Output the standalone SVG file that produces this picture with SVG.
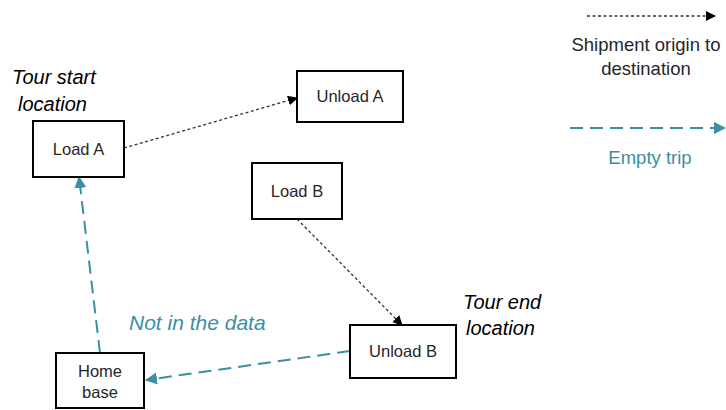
<svg xmlns="http://www.w3.org/2000/svg" width="726" height="410" viewBox="0 0 726 410">
  <defs>
    <style>
      .box { fill: #ffffff; stroke: #000000; stroke-width: 2; }
      .lbl { font-family: "Liberation Sans", Arial, sans-serif; font-size: 16.5px; fill: #262626; text-anchor: middle; }
      .note { font-family: "Liberation Sans", Arial, sans-serif; font-size: 20px; font-style: italic; fill: #000000; }
      .leg { font-family: "Liberation Sans", Arial, sans-serif; font-size: 18.5px; fill: #262626; text-anchor: middle; }
      .ship { fill: none; stroke: #333333; stroke-width: 1.3; stroke-dasharray: 3 2.5; marker-end: url(#headBlack); }
      .empty { fill: none; stroke: #3A8FA3; stroke-width: 2; stroke-dasharray: 13 7; marker-end: url(#headTeal); }
    </style>
    <marker id="headBlack" markerWidth="10" markerHeight="10" refX="9" refY="5" orient="auto" markerUnits="userSpaceOnUse">
      <path d="M0,0 L10,5 L0,10 Z" fill="#000000"/>
    </marker>
    <marker id="headTeal" markerWidth="12" markerHeight="12" refX="11" refY="6" orient="auto" markerUnits="userSpaceOnUse">
      <path d="M0,0 L12,6 L0,12 Z" fill="#3A8FA3"/>
    </marker>
  </defs>

  <!-- connectors -->
  <g id="connectors">
    <path class="ship" d="M124,148 L297,98"/>
    <path class="ship" d="M297,219 L402,325"/>
    <path class="empty" d="M100,353 L79,177"/>
    <path class="empty" d="M350,351 L146,380"/>
  </g>

  <!-- nodes -->
  <g id="load-a">
    <rect class="box" x="33" y="121" width="91" height="56"/>
    <text class="lbl" x="78.5" y="155">Load A</text>
  </g>
  <g id="unload-a">
    <rect class="box" x="297" y="71" width="106" height="51"/>
    <text class="lbl" x="350" y="102">Unload A</text>
  </g>
  <g id="load-b">
    <rect class="box" x="252" y="163" width="90" height="56"/>
    <text class="lbl" x="297" y="197">Load B</text>
  </g>
  <g id="unload-b">
    <rect class="box" x="350" y="325" width="106" height="53"/>
    <text class="lbl" x="403" y="357">Unload B</text>
  </g>
  <g id="home-base">
    <rect class="box" x="56" y="353" width="88" height="55"/>
    <text class="lbl" x="100" y="377">Home</text>
    <text class="lbl" x="100" y="398">base</text>
  </g>

  <!-- annotations -->
  <g id="annotations">
    <text class="note" x="12" y="84">Tour start</text>
    <text class="note" x="18" y="111">location</text>
    <text class="note" x="463" y="309">Tour end</text>
    <text class="note" x="466" y="335">location</text>
    <text class="note" x="129" y="330" style="fill:#3A8FA3;font-size:21px">Not in the data</text>
  </g>

  <!-- legend -->
  <g id="legend">
    <path class="ship" d="M587,16 L715,16"/>
    <text class="leg" x="646" y="51">Shipment origin to</text>
    <text class="leg" x="646" y="75">destination</text>
    <path class="empty" d="M570,128 L726,128" style="marker-end:none"/>
    <path d="M714,122 L726,128 L714,134 Z" fill="#3A8FA3"/>
    <text class="leg" x="650" y="164" style="fill:#3A8FA3">Empty trip</text>
  </g>
</svg>
